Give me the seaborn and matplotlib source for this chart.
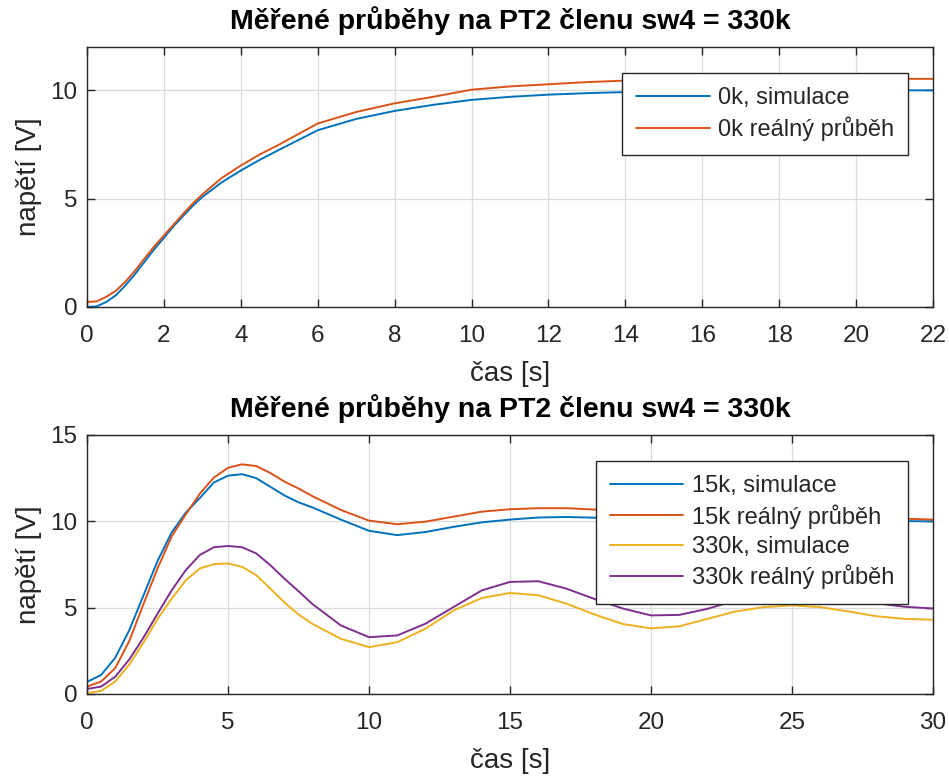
import numpy as np
import pandas as pd
import matplotlib
matplotlib.use("Agg")
import matplotlib.pyplot as plt
import seaborn as sns

# ---- data: top panel (0k) ----
t_top = [0, 0.25, 0.5, 0.75, 1, 1.25, 1.5, 1.75, 2, 2.25, 2.5, 2.75, 3, 3.5, 4, 4.5, 5,
         6, 7, 8, 9, 10, 11, 12, 13, 14, 15, 16, 18, 20, 22]
sim_0k = [0.0, 0.03, 0.23, 0.54, 1.0, 1.52, 2.1, 2.67, 3.19, 3.73, 4.2, 4.67, 5.08, 5.75, 6.3, 6.8, 7.26,
          8.16, 8.68, 9.05, 9.33, 9.56, 9.7, 9.8, 9.87, 9.92, 9.95, 9.97, 9.99, 10.0, 10.0]
real_0k = [0.23, 0.26, 0.47, 0.75, 1.17, 1.68, 2.25, 2.8, 3.3, 3.8, 4.3, 4.78, 5.2, 5.95, 6.53, 7.05, 7.5,
           8.47, 9.0, 9.4, 9.7, 10.03, 10.18, 10.28, 10.38, 10.45, 10.48, 10.5, 10.52, 10.53, 10.53]

# ---- data: bottom panel (15k, 330k) ----
t_bot = [0, 0.5, 1, 1.5, 2, 2.5, 3, 3.5, 4, 4.5, 5, 5.5, 6, 6.5, 7, 7.5, 8,
         9, 10, 11, 12, 13, 14, 15, 16, 17, 18, 19, 20, 21, 22, 23, 24, 25, 26, 27, 28, 29, 30]
sim_15k = [0.7, 1.1, 2.1, 3.7, 5.7, 7.7, 9.35, 10.5, 11.35, 12.25, 12.64, 12.73, 12.5, 12.0, 11.5, 11.1, 10.8,
           10.1, 9.45, 9.2, 9.38, 9.68, 9.94, 10.1, 10.22, 10.25, 10.21, 10.15, 10.08, 10.03, 10.0, 9.99, 9.99,
           10.0, 10.01, 10.02, 10.02, 10.01, 10.0]
real_15k = [0.43, 0.72, 1.5, 3.07, 5.2, 7.27, 9.12, 10.4, 11.6, 12.54, 13.1, 13.3, 13.2, 12.8, 12.3, 11.9, 11.45,
            10.66, 10.04, 9.83, 9.98, 10.27, 10.56, 10.7, 10.76, 10.76, 10.68, 10.55, 10.42, 10.32, 10.26, 10.24,
            10.25, 10.27, 10.27, 10.24, 10.2, 10.15, 10.1]
sim_330k = [0.04, 0.18, 0.72, 1.7, 2.97, 4.34, 5.51, 6.58, 7.27, 7.52, 7.56, 7.36, 6.88, 6.1, 5.3, 4.6, 4.05,
            3.2, 2.71, 3.0, 3.78, 4.84, 5.56, 5.85, 5.72, 5.23, 4.6, 4.05, 3.8, 3.92, 4.35, 4.78, 5.03, 5.13,
            5.03, 4.78, 4.5, 4.35, 4.3]
real_330k = [0.29, 0.43, 1.0, 2.0, 3.26, 4.65, 6.0, 7.17, 8.05, 8.5, 8.57, 8.5, 8.14, 7.46, 6.68, 5.95, 5.2,
             3.97, 3.29, 3.39, 4.07, 5.04, 6.0, 6.49, 6.53, 6.1, 5.5, 4.95, 4.55, 4.58, 4.93, 5.42, 5.7, 5.75,
             5.7, 5.5, 5.25, 5.05, 4.95]

labels_top = ["0k, simulace", "0k reálný průběh"]
labels_bot = ["15k, simulace", "15k reálný průběh", "330k, simulace", "330k reálný průběh"]
title_txt = "Měřené průběhy na PT2 členu sw4 = 330k"
colors = ["#0072BD", "#D95319", "#EDB120", "#7E2F8E"]

sns.set_theme(style="white")
plt.rcParams['font.family'] = ['Liberation Sans', 'DejaVu Sans']

fig = plt.figure(figsize=(9.49, 7.78), dpi=100)
ax1 = fig.add_axes([0.0917, 0.6054, 0.8915, 0.3342])
ax2 = fig.add_axes([0.0917, 0.1080, 0.8915, 0.3329])

df_top = pd.concat([
    pd.DataFrame({"t": t_top, "v": sim_0k, "s": labels_top[0]}),
    pd.DataFrame({"t": t_top, "v": real_0k, "s": labels_top[1]}),
])
df_bot = pd.concat([
    pd.DataFrame({"t": t_bot, "v": sim_15k, "s": labels_bot[0]}),
    pd.DataFrame({"t": t_bot, "v": real_15k, "s": labels_bot[1]}),
    pd.DataFrame({"t": t_bot, "v": sim_330k, "s": labels_bot[2]}),
    pd.DataFrame({"t": t_bot, "v": real_330k, "s": labels_bot[3]}),
])

sns.lineplot(data=df_top, x="t", y="v", hue="s", hue_order=labels_top,
             palette=colors[:2], ax=ax1, linewidth=1.4, sort=False, estimator=None)
sns.lineplot(data=df_bot, x="t", y="v", hue="s", hue_order=labels_bot,
             palette=colors, ax=ax2, linewidth=1.4, sort=False, estimator=None)

axis_col = "#262626"
for ax, xmax, xt, ymax, yt in [
    (ax1, 22, np.arange(0, 23, 2), 12, [0, 5, 10]),
    (ax2, 30, np.arange(0, 31, 5), 15, [0, 5, 10, 15]),
]:
    ax.set_xlim(0, xmax)
    ax.set_ylim(0, ymax)
    ax.set_xticks(xt)
    ax.set_yticks(yt)
    ax.grid(True, color="#dcdcdc", linewidth=0.9)
    ax.set_facecolor("white")
    for sp in ax.spines.values():
        sp.set_visible(True)
        sp.set_color(axis_col)
        sp.set_linewidth(1.0)
    ax.tick_params(direction="in", length=6, width=1.0, color=axis_col,
                   top=True, right=True, bottom=True, left=True,
                   labelsize=17.5, labelcolor=axis_col)
    ax.tick_params(axis="x", pad=13)
    ax.tick_params(axis="y", pad=7)
    ax.set_xlabel("čas [s]", fontsize=20, color=axis_col, labelpad=10)
    ax.set_ylabel("napětí [V]", fontsize=20, color=axis_col, labelpad=6)
    ax.set_title(title_txt, fontsize=20.5, fontweight="bold", color="black", pad=13)
    leg = ax.legend(loc="upper right", bbox_to_anchor=(0.9705, 0.9),
                    borderaxespad=0, fontsize=17, frameon=True, fancybox=False,
                    framealpha=1, edgecolor=axis_col, handlelength=3.1,
                    handletextpad=0.35, labelspacing=0.3, borderpad=0.6)
    leg.get_frame().set_linewidth(1.0)
    for txt in leg.get_texts():
        txt.set_color(axis_col)

fig.savefig("out.png", dpi=100, facecolor="white")
